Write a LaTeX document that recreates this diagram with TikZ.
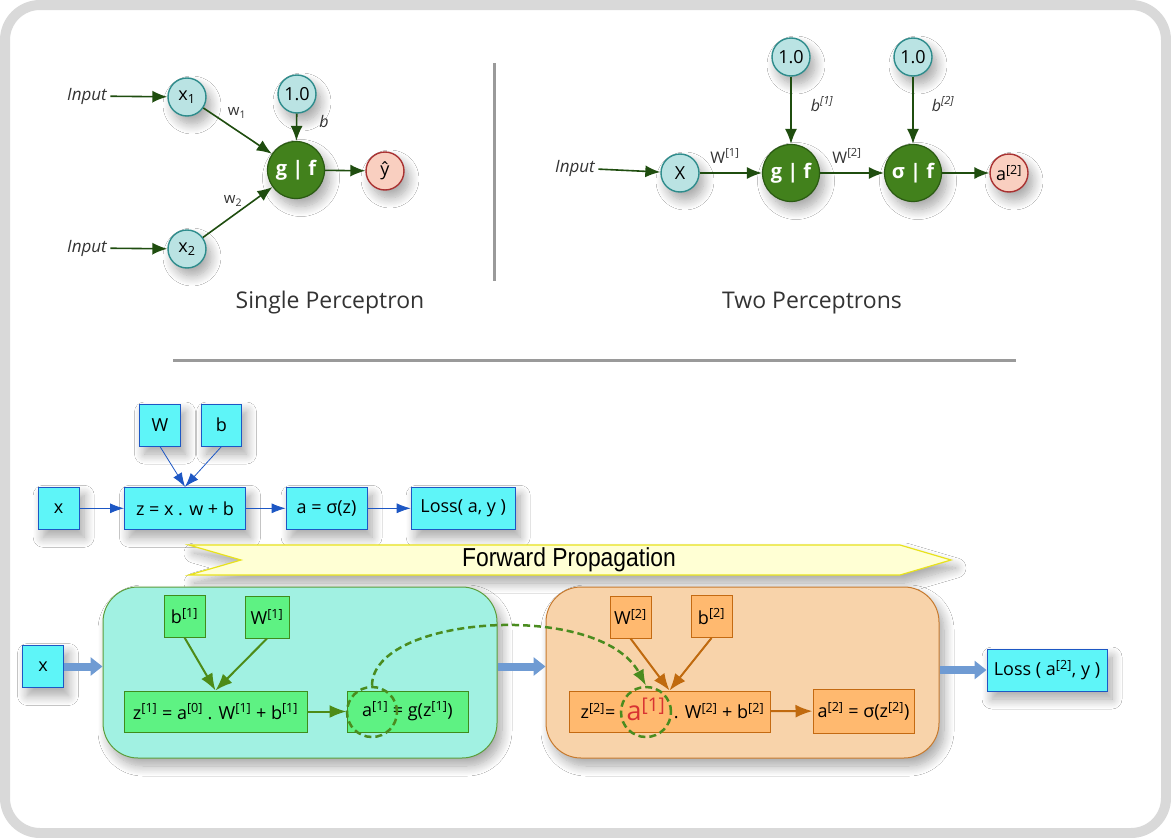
\documentclass[tikz,border=0pt]{standalone}
\usepackage{fontspec}
\setmainfont{Open Sans}
\newfontfamily\bannerfont{Liberation Sans}
\usetikzlibrary{arrows.meta,shadows.blur}

\definecolor{framegray}{HTML}{D9D9D9}
\definecolor{sepgray}{HTML}{9A9A9A}
\definecolor{tealfill}{HTML}{BAE3E3}
\definecolor{tealdraw}{HTML}{2E8C8C}
\definecolor{dgfill}{HTML}{42811C}
\definecolor{dgdraw}{HTML}{2A5A12}
\definecolor{dgarrow}{HTML}{1F4D0F}
\definecolor{pinkfill}{HTML}{F9CFC0}
\definecolor{pinkdraw}{HTML}{A93131}
\definecolor{cyanfill}{HTML}{5EF5F8}
\definecolor{bluedraw}{HTML}{1D57C4}
\definecolor{banfill}{HTML}{FFFFD4}
\definecolor{bandraw}{HTML}{E8E21C}
\definecolor{grpfillA}{HTML}{A1F1E2}
\definecolor{grpdrawA}{HTML}{5C9E3C}
\definecolor{grnfill}{HTML}{5EF283}
\definecolor{grndraw}{HTML}{3F8C1C}
\definecolor{grnarrow}{HTML}{4D8B17}
\definecolor{grpfillB}{HTML}{F8D3AA}
\definecolor{grpdrawB}{HTML}{C77A2E}
\definecolor{orgfill}{HTML}{FFB96F}
\definecolor{orgdraw}{HTML}{C46A12}
\definecolor{orgarrow}{HTML}{C06A0F}
\definecolor{dashgreen}{HTML}{4A8C1F}
\definecolor{reda}{HTML}{D83232}
\definecolor{fatfill}{HTML}{6F9BD3}

\newcommand{\lyr}[1]{\textsuperscript{[#1]}}

\tikzset{
    shad/.style={blur shadow={shadow xshift=5pt,shadow yshift=-8pt,shadow blur radius=10pt,shadow blur steps=12,shadow opacity=35}},
    incirc/.style={circle,draw=tealdraw,fill=tealfill,line width=1.4pt,minimum size=38pt,inner sep=0pt,shad,font=\fontsize{18}{21}\selectfont},
    actcirc/.style={circle,draw=dgdraw,fill=dgfill,line width=1.2pt,minimum size=57pt,inner sep=0pt,shad,text=white,font=\bfseries\fontsize{20}{23}\selectfont},
    outcirc/.style={circle,draw=pinkdraw,fill=pinkfill,line width=1.4pt,minimum size=38pt,inner sep=0pt,shad,font=\fontsize{18}{21}\selectfont},
    intext/.style={font=\itshape\fontsize{17}{20}\selectfont,text=black!80},
    wlabel/.style={font=\fontsize{15}{18}\selectfont,text=black!80},
    blabel/.style={font=\itshape\fontsize{16}{19}\selectfont,text=black!80},
    ttl/.style={font=\fontsize{23}{28}\selectfont,text=black!80},
    dgarr/.style={draw=dgarrow,line width=1.6pt,-{Latex[length=15pt,width=12pt]}},
    cbox/.style={rectangle,draw=bluedraw,fill=cyanfill,line width=1pt,inner sep=0pt,minimum height=42pt,shad,font=\fontsize{18}{21}\selectfont},
    blarr/.style={draw=bluedraw,line width=0.8pt,-{Latex[length=14pt,width=10pt]}},
    grpA/.style={rectangle,rounded corners=35pt,draw=grpdrawA,fill=grpfillA,line width=1pt,shad},
    grpB/.style={rectangle,rounded corners=35pt,draw=grpdrawB,fill=grpfillB,line width=1pt,shad},
    gbox/.style={rectangle,draw=grndraw,fill=grnfill,line width=1pt,inner sep=0pt,minimum height=42pt,font=\fontsize{18}{21}\selectfont},
    obox/.style={rectangle,draw=orgdraw,fill=orgfill,line width=1pt,inner sep=0pt,minimum height=42pt,font=\fontsize{18}{21}\selectfont},
    garr/.style={draw=grnarrow,line width=2pt,-{Latex[length=17pt,width=13pt]}},
    oarr/.style={draw=orgarrow,line width=2pt,-{Latex[length=17pt,width=13pt]}},
    ring/.style={circle,draw=dashgreen,line width=2.5pt,dash pattern=on 7pt off 4pt,minimum size=50pt,inner sep=0pt},
    dcurve/.style={draw=dashgreen,line width=2.5pt,dash pattern=on 7pt off 4pt,-{Latex[length=16pt,width=12pt]}},
    fat/.style={draw=fatfill,line width=8pt,-{Triangle[length=12pt,width=18pt]}},
    eqtext/.style={inner sep=0pt,font=\fontsize{18}{21}\selectfont}
}

\begin{document}
\begin{tikzpicture}[x=1pt,y=-1pt]
    \useasboundingbox (0,0) rectangle (1171,838);
    \fill[white] (0,0) rectangle (1171,838);
    \draw[framegray,line width=10pt,rounded corners=35pt] (5,5) rectangle (1166,833);

    \draw[sepgray,line width=3pt] (494,63) -- (494,281);
    \draw[sepgray,line width=3pt] (173,360) -- (1016,360);

    \node[intext] (in1) at (87,96) {Input};
    \node[intext] (in2) at (87,248) {Input};
    \node[incirc] (x1) at (187,97) {x\textsubscript{1}};
    \node[incirc] (x2) at (187,249) {x\textsubscript{2}};
    \node[incirc] (bias1) at (297,94) {1.0};
    \node[actcirc] (gf1) at (296,170) {g | f};
    \node[outcirc] (yhat) at (385,171) {ŷ};
    \node[wlabel] (lw1) at (237,113) {w\textsubscript{1}};
    \node[wlabel] (lw2) at (233,201) {w\textsubscript{2}};
    \node[blabel] (lb) at (324,121) {b};
    \node[ttl] (ttl1) at (330,303) {Single Perceptron};

    \draw[dgarr] (in1) -- (x1);
    \draw[dgarr] (in2) -- (x2);
    \draw[dgarr] (x1) -- (gf1);
    \draw[dgarr] (x2) -- (gf1);
    \draw[dgarr] (bias1) -- (gf1);
    \draw[dgarr] (gf1) -- (yhat);

    \node[intext] (in3) at (575,168) {Input};
    \node[incirc] (xc) at (680,173) {X};
    \node[actcirc] (gf2) at (791,173) {g | f};
    \node[actcirc] (sf) at (913,173) {σ | f};
    \node[incirc] (bias2) at (791,57) {1.0};
    \node[incirc] (bias3) at (913,57) {1.0};
    \node[outcirc] (a2c) at (1009,173) {a\lyr{2}};
    \node[wlabel,font=\fontsize{16}{19}\selectfont] (lW1) at (725,156) {W\lyr{1}};
    \node[wlabel,font=\fontsize{16}{19}\selectfont] (lW2) at (847,156) {W\lyr{2}};
    \node[blabel] (lb1) at (822,104) {b\lyr{1}};
    \node[blabel] (lb2) at (943,104) {b\lyr{2}};
    \node[ttl] (ttl2) at (812,303) {Two Perceptrons};

    \draw[dgarr] (in3) -- (xc);
    \draw[dgarr] (xc) -- (gf2);
    \draw[dgarr] (bias2) -- (gf2);
    \draw[dgarr] (gf2) -- (sf);
    \draw[dgarr] (bias3) -- (sf);
    \draw[dgarr] (sf) -- (a2c);

    \node[cbox,minimum width=41pt] (bw) at (160,425) {W};
    \node[cbox,minimum width=40pt] (bb) at (221.5,425) {b};
    \node[cbox,minimum width=41pt] (bx) at (58.7,508.3) {x};
    \node[cbox,minimum width=121pt] (bz) at (185,508.3) {z = x . w + b};
    \node[cbox,minimum width=81pt] (ba) at (326.6,508.3) {a = σ(z)};
    \node[cbox,minimum width=104pt] (bl) at (463.2,508.3) {Loss( a, y )};

    \draw[blarr] (bw.south) -- (bz.north);
    \draw[blarr] (bb.south) -- (bz.north);
    \draw[blarr] (bx) -- (bz);
    \draw[blarr] (bz) -- (ba);
    \draw[blarr] (ba) -- (bl);

    \filldraw[draw=bandraw,fill=banfill,line width=1.2pt,shad] (189,545) -- (900,545) -- (951,560) -- (900,575) -- (189,575) -- (241,560) -- cycle;
    \node[font=\bannerfont\fontsize{26}{30}\selectfont] (fwd) at (569,560) {\scalebox{0.88}[1]{Forward Propagation}};

    \node[grpA,minimum width=394pt,minimum height=171pt] (g1) at (300,672.5) {};
    \node[grpB,minimum width=393pt,minimum height=171pt] (g2) at (742.5,672.5) {};
    \node[cbox,minimum width=41pt] (bx2) at (43,666.5) {x};
    \node[cbox,minimum width=120pt] (bl2) at (1047,670) {Loss ( a\lyr{2}, y )};

    \draw[fat] (bx2.east) -- (bx2.east -| g1.west);
    \draw[fat] (g1.east |- bx2) -- (g2.west |- bx2);
    \draw[fat] (g2.east |- bl2) -- (bl2.west);

    \node[gbox,minimum width=41pt] (gb1) at (184.5,616) {b\lyr{1}};
    \node[gbox,minimum width=44pt] (gw1) at (267,617) {W\lyr{1}};
    \node[gbox,minimum width=183pt,minimum height=41pt] (gz1) at (215.5,711.5) {z\lyr{1} = a\lyr{0} . W\lyr{1} + b\lyr{1}};
    \node[gbox,minimum width=121pt,minimum height=41pt] (ga1) at (407.5,711.5) {a\lyr{1} = g(z\lyr{1})};

    \draw[garr] (gb1.south) -- (gz1.north);
    \draw[garr] (gw1.south) -- (gz1.north);
    \draw[garr] (gz1) -- (ga1);

    \node[obox,minimum width=41pt] (gw2) at (630.5,617) {W\lyr{2}};
    \node[obox,minimum width=41pt] (gb2) at (711.5,616.5) {b\lyr{2}};
    \node[obox,minimum width=201pt,minimum height=41pt] (gz2) at (669.5,711.5) {};
    \node[eqtext] (z2l) at (598,711) {z\lyr{2}=};
    \node[eqtext,text=reda,font=\fontsize{27}{30}\selectfont] (ra1) at (646,709) {a\lyr{1}};
    \node[eqtext] (z2r) at (719,711) {. W\lyr{2} + b\lyr{2}};
    \node[obox,minimum width=101pt,minimum height=44pt] (ga2) at (863.5,711) {a\lyr{2} = σ(z\lyr{2})};

    \draw[oarr] (gw2.south) -- (gz2.north);
    \draw[oarr] (gb2.south) -- (gz2.north);
    \draw[oarr] (gz2) -- (ga2);

    \node[ring] (c1) at (372,712) {};
    \node[ring] (c2) at (646,712) {};
    \draw[dcurve] (c1.north) .. controls (372,615) and (600,600) .. (c2.north);
\end{tikzpicture}
\end{document}
